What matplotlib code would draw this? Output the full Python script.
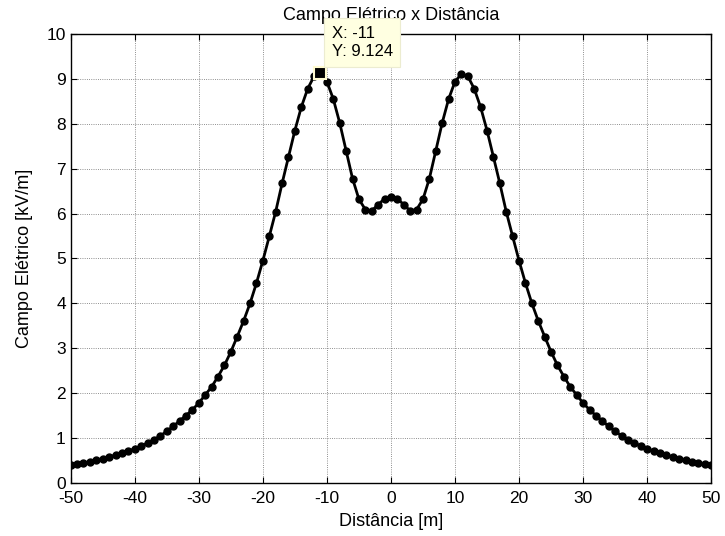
import numpy as np
import matplotlib
matplotlib.use('Agg')
import matplotlib.pyplot as plt

plt.rcParams['font.family'] = ['Liberation Sans', 'DejaVu Sans']
plt.rcParams['axes.unicode_minus'] = False

# distance [m] and field [kV/m]
distancia = list(range(-50, 51))
campo = [0.39, 0.42, 0.45, 0.47, 0.51, 0.54, 0.58, 0.62, 0.67, 0.71,
         0.76, 0.82, 0.89, 0.96, 1.05, 1.15, 1.26, 1.38, 1.50, 1.63,
         1.78, 1.96, 2.14, 2.37, 2.62, 2.92, 3.26, 3.61, 4.00, 4.45,
         4.95, 5.49, 6.04, 6.67, 7.26, 7.85, 8.37, 8.78, 9.06, 9.124,
         8.94, 8.55, 8.02, 7.40, 6.78, 6.32, 6.09, 6.06, 6.20, 6.33,
         6.38,
         6.33, 6.20, 6.06, 6.09, 6.32, 6.78, 7.40, 8.02, 8.55, 8.94,
         9.11, 9.06, 8.78, 8.37, 7.85, 7.26, 6.67, 6.04, 5.49, 4.95,
         4.45, 4.00, 3.61, 3.26, 2.92, 2.62, 2.37, 2.14, 1.96, 1.78,
         1.63, 1.50, 1.38, 1.26, 1.15, 1.05, 0.96, 0.89, 0.82, 0.76,
         0.71, 0.67, 0.62, 0.58, 0.54, 0.51, 0.47, 0.45, 0.42, 0.39]

tip_x, tip_y = -11, 9.124
xticks = list(range(-50, 51, 10))
yticks = list(range(0, 11))

fig = plt.figure(figsize=(7.25, 5.36), dpi=100)
ax = fig.add_axes([0.0975, 0.099, 0.8835, 0.8376])

ax.plot(distancia, campo, '-o', color='black', linewidth=2, markersize=5)

ax.set_xlim(-50, 50)
ax.set_ylim(0, 10)
ax.set_xticks(xticks)
ax.set_yticks(yticks)
ax.tick_params(direction='in', top=True, right=True, length=4, labelsize=12.5, width=0.8)
ax.tick_params(axis='x', pad=6)
ax.grid(True, linestyle=':', color='#6a6a6a', linewidth=0.6)
for s in ax.spines.values():
    s.set_linewidth(1.0)

ax.set_title('Campo Elétrico x Distância', fontsize=13, pad=10)
ax.set_xlabel('Distância [m]', fontsize=13, labelpad=5)
ax.set_ylabel('Campo Elétrico [kV/m]', fontsize=13, labelpad=10)

# data tip
ax.plot([tip_x], [tip_y], 's', color='black', markersize=8,
        markeredgecolor='#fffbd0', markeredgewidth=1.5, zorder=5, clip_on=False)
ax.annotate(f'X: {tip_x}\nY: {tip_y}', xy=(tip_x, tip_y), xytext=(8, 10),
            textcoords='offset points', ha='left', va='bottom', fontsize=12,
            linespacing=1.3, annotation_clip=False, zorder=6,
            bbox=dict(boxstyle='square,pad=0.45', facecolor='#ffffe1',
                      edgecolor='#ececd0', linewidth=0.8))

fig.savefig('out.png', dpi=100)
